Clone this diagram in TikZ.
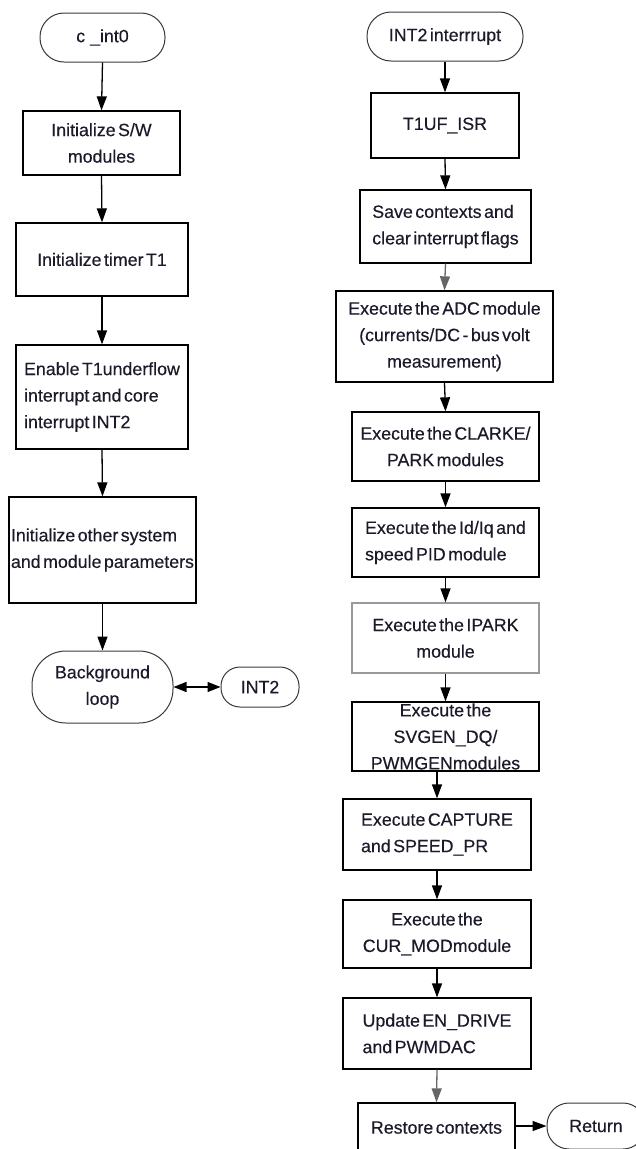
\documentclass[tikz,border=0pt]{standalone}
\usepackage{fontspec}
\setmainfont{Liberation Sans}[WordSpace=0.5, FakeBold=0.3]
\usetikzlibrary{arrows.meta}
\definecolor{txt}{HTML}{1A1A2A}
\definecolor{termline}{HTML}{3A3A3A}
\begin{document}
\begin{tikzpicture}[x=1pt,y=-1pt,
  every node/.style={font=\fontsize{17.8pt}{26.5pt}\selectfont, text=txt, inner sep=0pt},
  procbox/.style={draw=black, line width=1.3pt, rectangle, align=center},
  leftbox/.style={procbox, align=left},
  termbox/.style={draw=termline, line width=1pt, rectangle, align=center},
  flow/.style={line width=1.3pt, draw=black, -{Triangle[length=14pt,width=10pt]}},
  flowgray/.style={flow, draw=black!60},
  twoway/.style={line width=1.3pt, {Triangle[length=13pt,width=10pt]}-{Triangle[length=13pt,width=10pt]}}
]
\useasboundingbox (0,0) rectangle (636,1149);
\clip (0,0) rectangle (636,1149);
\fill[white] (0,0) rectangle (636,1149);

% left column
\node[termbox, minimum width=125pt, minimum height=49pt, rounded corners=24pt] (cint) at (102.5,37.5) {c\hspace{5pt}\_int0};
\node[procbox, minimum width=157pt, minimum height=64pt] (s1) at (101.5,143) {Initialize S/W\\modules};
\node[procbox, minimum width=172pt, minimum height=73pt] (s2) at (102,259.5) {Initialize timer T1};
\node[leftbox, minimum width=172pt, minimum height=104pt] (s3) at (102,397) {Enable T1underflow\\interrupt and core\\interrupt INT2};
\node[leftbox, minimum width=187pt, minimum height=106pt] (s4) at (102.5,550) {Initialize other system\\and module parameters};
\node[termbox, minimum width=141pt, minimum height=72pt, rounded corners=34pt] (bg) at (102.5,687) {Background\\loop};
\node[termbox, minimum width=78pt, minimum height=40pt, rounded corners=19pt] (int2) at (260,687) {INT2};

\draw[flow] (cint.south) -- (s1.north);
\draw[flow] (s1.south) -- (s2.north);
\draw[flow] (s2.south) -- (s3.north);
\draw[flow] (s3.south) -- (s4.north);
\draw[flow] (s4.south) -- (bg.north);
\draw[twoway] (bg.east) -- (int2.west);

% right column
\node[termbox, minimum width=156pt, minimum height=49pt, rounded corners=24pt] (r0) at (445,36.5) {INT2 interrrupt};
\node[procbox, minimum width=148pt, minimum height=65pt] (r1) at (445,125.5) {T1UF\_ISR};
\node[leftbox, minimum width=171pt, minimum height=73pt] (r2) at (445.5,226.5) {Save contexts and\\clear interrupt flags};
\node[procbox, minimum width=217pt, minimum height=91pt] (r3) at (444.5,336.5) {Execute the ADC module\\(currents/DC - bus volt\\measurement)};
\node[procbox, minimum width=187pt, minimum height=69pt] (r4) at (445.5,446.5) {Execute the CLARKE/\\PARK modules};
\node[leftbox, minimum width=187pt, minimum height=69pt] (r5) at (445.5,542.5) {Execute the Id/Iq and\\speed PID module};
\node[procbox, draw=black!40, minimum width=187pt, minimum height=70pt] (r6) at (445.5,638) {Execute the IPARK\\module};
\node[procbox, minimum width=187pt, minimum height=69pt] (r7) at (445.5,736.5) {Execute the\\SVGEN\_DQ/\\PWMGENmodules};
\node[leftbox, minimum width=188pt, minimum height=71pt] (r8) at (437,834.5) {Execute CAPTURE\\and SPEED\_PR};
\node[procbox, minimum width=188pt, minimum height=68pt] (r9) at (437,934) {Execute the\\CUR\_MODmodule};
\node[leftbox, minimum width=188pt, minimum height=71pt] (r10) at (437,1033.5) {Update EN\_DRIVE\\and PWMDAC};
\node[procbox, minimum width=157pt, minimum height=57pt] (r11) at (436.5,1131.5) {\raisebox{8pt}{Restore contexts}};
\node[termbox, minimum width=98pt, minimum height=46pt, rounded corners=22pt] (ret) at (596,1126) {Return};

\draw[flow] (r0.south) -- (r1.north);
\draw[flow] (r1.south) -- (r2.north);
\draw[flowgray] (r2.south) -- (r3.north);
\draw[flow] (r3.south) -- (r4.north);
\draw[flow] (r4.south) -- (r5.north);
\draw[flow] (r5.south) -- (r6.north);
\draw[flow] (r6.south) -- (r7.north);
\draw[flow] (r8.north |- r7.south) -- (r8.north);
\draw[flow] (r8.south) -- (r9.north);
\draw[flow] (r9.south) -- (r10.north);
\draw[flowgray] (r10.south) -- (r11.north);
\draw[flow] (r11.east |- ret.west) -- (ret.west);
\end{tikzpicture}
\end{document}
